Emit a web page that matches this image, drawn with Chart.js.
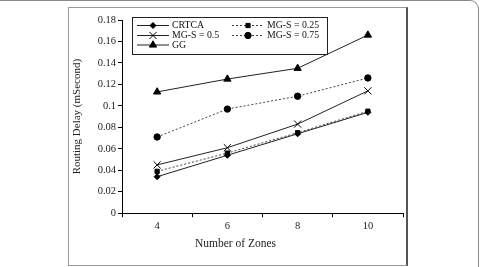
<!DOCTYPE html>
<html>
<head>
<meta charset="utf-8">
<script src="https://cdn.jsdelivr.net/npm/chart.js@4.4.1/dist/chart.umd.min.js"></script>
<style>
html, body { margin: 0; padding: 0; background: #fff; }
body { width: 480px; height: 267px; position: relative; overflow: hidden; }
#outer { position: absolute; left: -20px; top: 0; width: 499px; height: 300px; border: 1px solid #8a8a8a; border-radius: 9px; box-sizing: border-box; }
#inner { position: absolute; left: 68px; top: 7px; width: 340px; height: 259px; border: 1px solid #9a9a9a; border-right: 2px solid #555; box-sizing: border-box; }
#wrap { position: absolute; left: 68px; top: 0; width: 354px; height: 267px; }
</style>
</head>
<body>
<div id="outer"></div>
<div id="inner"></div>
<div id="wrap"><canvas id="delayChart" width="354" height="267"></canvas></div>
<script>
var zones = ['4', '6', '8', '10'];
var crtca = [0.034, 0.054, 0.074, 0.094];
var mgs025 = [0.039, 0.056, 0.075, 0.095];
var mgs05 = [0.045, 0.061, 0.083, 0.114];
var mgs075 = [0.071, 0.097, 0.109, 0.126];
var gg = [0.113, 0.125, 0.135, 0.166];
var yTicks = ['0', '0.02', '0.04', '0.06', '0.08', '0.1', '0.12', '0.14', '0.16', '0.18'];

var serif = '"Liberation Serif", "Times New Roman", serif';

// legend in a box, two columns, line + marker sample like the excel one
var boxLegend = {
    id: 'boxLegend',
    afterDraw: function(chart) {
        var ctx = chart.ctx;
        var a = chart.chartArea;
        var x0 = a.left + 10, y0 = a.top - 3;
        ctx.save();
        ctx.strokeStyle = '#222';
        ctx.lineWidth = 1;
        ctx.strokeRect(x0 + 0.5, y0 + 0.5, 195, 37);
        var cols = [x0 + 5, x0 + 100];
        var rows = [y0 + 8, y0 + 18, y0 + 27.5];
        chart.data.datasets.forEach(function(ds, i) {
            var cx = cols[i % 2], cy = rows[Math.floor(i / 2)];
            ctx.strokeStyle = ds.borderColor;
            ctx.lineWidth = 1;
            ctx.setLineDash(ds.borderDash || []);
            ctx.beginPath();
            ctx.moveTo(cx, cy + 0.5);
            ctx.lineTo(cx + 32, cy + 0.5);
            ctx.stroke();
            ctx.setLineDash([]);
            ctx.fillStyle = ds.pointBackgroundColor;
            ctx.strokeStyle = ds.pointBorderColor;
            Chart.helpers.drawPoint(ctx, { pointStyle: ds.pointStyle, radius: ds.pointRadius, borderWidth: 1, rotation: 0 }, cx + 16, cy + 0.5);
            ctx.fillStyle = '#111';
            ctx.font = '9.8px ' + serif;
            ctx.textBaseline = 'middle';
            ctx.fillText(ds.label, cx + 35, cy + 0.5);
        });
        ctx.restore();
    }
};

function series(label, values, dash, style, radius) {
    return {
        label: label,
        data: values,
        borderColor: dash ? '#444' : '#222',
        borderWidth: 1,
        borderDash: dash ? [2, 2] : [],
        pointStyle: style,
        pointRadius: radius,
        pointBackgroundColor: '#000',
        pointBorderColor: '#000',
        pointBorderWidth: 1,
        fill: false,
        tension: 0
    };
}

new Chart(document.getElementById('delayChart'), {
    type: 'line',
    data: {
        labels: zones,
        datasets: [
            series('CRTCA', crtca, false, 'rectRot', 3),
            series('MG-S = 0.25', mgs025, true, 'rect', 3),
            series('MG-S = 0.5', mgs05, false, 'crossRot', 5),
            series('MG-S = 0.75', mgs075, true, 'circle', 3.2),
            series('GG', gg, false, 'triangle', 4.2)
        ]
    },
    options: {
        responsive: false,
        animation: false,
        layout: { padding: { left: 0, right: 19, top: 20, bottom: 0 } },
        plugins: {
            legend: { display: false },
            tooltip: { enabled: false },
            title: {
                display: true,
                position: 'bottom',
                text: 'Number of Zones',
                color: '#222',
                font: { family: serif, size: 11.5, weight: 'normal' },
                padding: { top: 0, bottom: 16 }
            }
        },
        scales: {
            x: {
                offset: true,
                grid: { offset: true, drawOnChartArea: false, tickLength: 4, color: '#000' },
                border: { color: '#000' },
                ticks: { padding: 3, color: '#222', maxRotation: 0, font: { family: serif, size: 10.5 } },
                afterFit: function(s) { s.height = 24; }
            },
            y: {
                min: 0,
                max: 0.18,
                grid: { drawOnChartArea: false, tickLength: 4, color: '#000' },
                border: { color: '#000' },
                ticks: {
                    stepSize: 0.02,
                    padding: 2,
                    color: '#222',
                    font: { family: serif, size: 10.5 },
                    callback: function(v, i) { return yTicks[i]; }
                },
                title: {
                    display: true,
                    text: 'Routing Delay (mSecond)',
                    color: '#222',
                    font: { family: serif, size: 11 },
                    padding: { top: 3, bottom: 0 }
                },
                afterFit: function(s) { s.width = 54; }
            }
        }
    },
    plugins: [boxLegend]
});
</script>
</body>
</html>
